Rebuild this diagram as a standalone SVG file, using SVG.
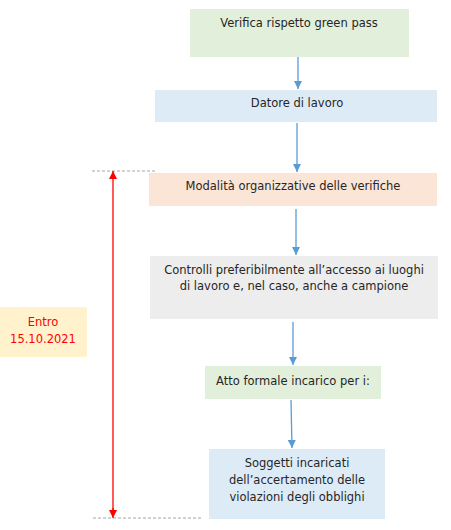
<svg xmlns="http://www.w3.org/2000/svg" width="451" height="530" viewBox="0 0 451 530">
<style>
text{font-family:"DejaVu Sans","Liberation Sans",sans-serif;font-size:11.5px;fill:#262626;text-anchor:middle}
.red{fill:#FF0000;font-size:11.5px}
.c{stroke:#5B9BD5;stroke-width:1.3;fill:none}
.d{stroke:#A6A6A6;stroke-width:1;stroke-dasharray:3,2;fill:none}
</style>
<defs>
<marker id="ar" markerWidth="8" markerHeight="8" viewBox="0 0 10 10" refX="10" refY="5" orient="auto" markerUnits="userSpaceOnUse"><path d="M0,0 L10,5 L0,10 Z" fill="#FF0000"/></marker>
<marker id="bl" markerWidth="8" markerHeight="8" viewBox="0 0 10 10" refX="10" refY="5" orient="auto" markerUnits="userSpaceOnUse"><path d="M0,0 L10,5 L0,10 Z" fill="#5B9BD5"/></marker>
</defs>
<g id="connectors">
<line class="c" x1="298" y1="57" x2="298" y2="89" marker-end="url(#bl)"/>
<line class="c" x1="297" y1="123" x2="297" y2="172" marker-end="url(#bl)"/>
<line class="c" x1="296" y1="209" x2="296" y2="255" marker-end="url(#bl)"/>
<line class="c" x1="293" y1="322" x2="293" y2="365" marker-end="url(#bl)"/>
<line class="c" x1="291" y1="400" x2="292" y2="448" marker-end="url(#bl)"/>
<line class="d" x1="92" y1="171" x2="155" y2="171"/>
<line class="d" x1="93" y1="518" x2="202" y2="518"/>
<line stroke="#FF0000" stroke-width="1.3" x1="113" y1="180" x2="113" y2="510"/>
<line stroke="#FF0000" stroke-width="1.3" x1="113" y1="180" x2="113" y2="171" marker-end="url(#ar)"/>
<line stroke="#FF0000" stroke-width="1.3" x1="113" y1="508" x2="113" y2="518" marker-end="url(#ar)"/>
</g>
<g id="n1"><rect x="190" y="9" width="219" height="48" fill="#E2EFDA"/><text x="299" y="27">Verifica rispetto green pass</text></g>
<g id="n2"><rect x="155" y="90" width="282" height="32" fill="#DDEBF7"/><text x="297" y="107">Datore di lavoro</text></g>
<g id="n3"><rect x="149" y="173" width="288" height="33" fill="#FBE5D6"/><text x="293" y="190">Modalità organizzative delle verifiche</text></g>
<g id="n4"><rect x="150" y="256" width="288" height="63" fill="#EDEDED"/><text x="294" y="274">Controlli preferibilmente all’accesso ai luoghi</text><text x="294" y="290">di lavoro e, nel caso, anche a campione</text></g>
<g id="n5"><rect x="205" y="366" width="176" height="33" fill="#E2EFDA"/><text x="293" y="385">Atto formale incarico per i:</text></g>
<g id="n6"><rect x="209" y="449" width="176" height="70" fill="#DDEBF7"/><text x="297" y="467">Soggetti incaricati</text><text x="297" y="484">dell’accertamento delle</text><text x="297" y="501">violazioni degli obblighi</text></g>
<g id="n7"><rect x="0" y="307" width="87" height="50" fill="#FFF2CC"/><text class="red" x="43" y="326">Entro</text><text class="red" x="43" y="343">15.10.2021</text></g>
</svg>
